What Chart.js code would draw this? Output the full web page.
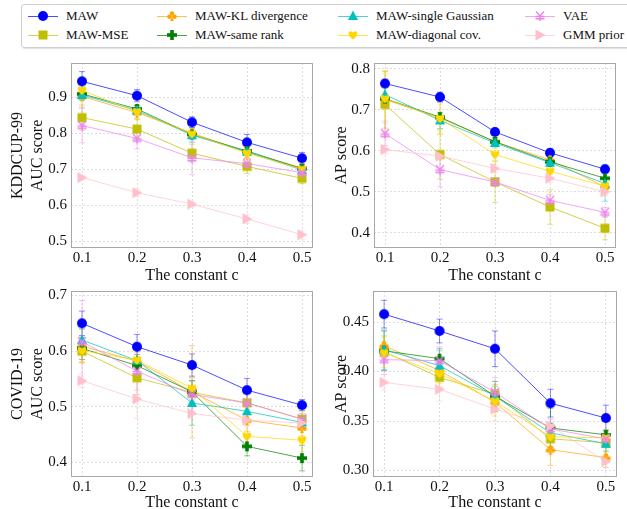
<!DOCTYPE html>
<html lang="en">
<head>
<meta charset="UTF-8">
<title>MAW ablation - constant c</title>
<script src="https://cdn.jsdelivr.net/npm/chart.js@4.4.1/dist/chart.umd.min.js"></script>
<style>
  body { margin: 0; width: 627px; height: 509px; overflow: hidden; position: relative; background: #fff; font-family: 'Liberation Serif', 'Times New Roman', serif; }
  canvas.panel { position: absolute; }
  #legend { position: absolute; left: 21px; top: 4px; width: 640px; height: 42px; border: 1px solid #cfcfcf; border-radius: 3px; box-shadow: 1px 1px 1px rgba(0,0,0,0.12); background: #fff; }
  .item { position: absolute; height: 18px; }
  .item canvas { position: absolute; left: 0; top: 2px; }
  .item span { position: absolute; top: 0; font-size: 13px; line-height: 18px; color: #111; white-space: nowrap; }
</style>
</head>
<body>
  <div id="legend"></div>
  <canvas id="p1" class="panel"></canvas>
  <canvas id="p2" class="panel"></canvas>
  <canvas id="p3" class="panel"></canvas>
  <canvas id="p4" class="panel"></canvas>
  <script>
    // x values and methods
    const cValues = [0.1, 0.2, 0.3, 0.4, 0.5];
    const methods = ['MAW', 'MAW-MSE', 'MAW-KL divergence', 'MAW-same rank',
                     'MAW-single Gaussian', 'MAW-diagonal cov.', 'VAE', 'GMM prior'];
    const methodColors = ['#0000ff', '#bfbf00', '#ffa500', '#008000',
                          '#00bfbf', '#ffd700', '#ee82ee', '#ffc0cb'];
    const methodMarkers = ['circle', 'square', 'club', 'plus', 'triUp', 'heart', 'yen', 'triRight'];

    // KDDCUP-99, AUC (rows follow methods order)
    const kddAuc = [
      [0.945, 0.905, 0.831, 0.775, 0.731],
      [0.844, 0.812, 0.745, 0.708, 0.675],
      [0.903, 0.858, 0.801, 0.747, 0.704],
      [0.910, 0.868, 0.797, 0.751, 0.702],
      [0.907, 0.864, 0.795, 0.749, 0.698],
      [0.920, 0.860, 0.799, 0.745, 0.700],
      [0.822, 0.786, 0.732, 0.716, 0.691],
      [0.677, 0.635, 0.603, 0.562, 0.518]
    ];
    const kddAucErr = [
      [0.027, 0.017, 0.015, 0.022, 0.016],
      [0.035, 0.030, 0.025, 0.020, 0.015],
      [0.030, 0.020, 0.015, 0.015, 0.010],
      [0.015, 0.010, 0.010, 0.010, 0.010],
      [0.015, 0.010, 0.020, 0.010, 0.015],
      [0.020, 0.020, 0.015, 0.015, 0.010],
      [0.048, 0.029, 0.047, 0.015, 0.020],
      [0.005, 0.010, 0.006, 0.012, 0.012]
    ];

    // KDDCUP-99, AP
    const kddAp = [
      [0.764, 0.731, 0.646, 0.595, 0.555],
      [0.713, 0.591, 0.524, 0.463, 0.411],
      [0.725, 0.680, 0.622, 0.578, 0.512],
      [0.727, 0.682, 0.622, 0.573, 0.533],
      [0.737, 0.674, 0.619, 0.571, 0.520],
      [0.727, 0.679, 0.591, 0.550, 0.514],
      [0.642, 0.554, 0.524, 0.479, 0.450],
      [0.603, 0.587, 0.557, 0.533, 0.500]
    ];
    const kddApErr = [
      [0.010, 0.012, 0.008, 0.010, 0.010],
      [0.080, 0.060, 0.050, 0.042, 0.028],
      [0.070, 0.040, 0.010, 0.010, 0.010],
      [0.010, 0.010, 0.010, 0.010, 0.020],
      [0.020, 0.020, 0.010, 0.010, 0.043],
      [0.060, 0.035, 0.015, 0.015, 0.020],
      [0.030, 0.042, 0.010, 0.015, 0.012],
      [0.010, 0.010, 0.010, 0.010, 0.010]
    ];

    // COVID-19, AUC
    const covidAuc = [
      [0.650, 0.608, 0.575, 0.530, 0.503],
      [0.600, 0.552, 0.526, 0.507, 0.478],
      [0.609, 0.582, 0.527, 0.476, 0.462],
      [0.605, 0.574, 0.527, 0.429, 0.408],
      [0.620, 0.583, 0.507, 0.492, 0.472],
      [0.601, 0.584, 0.533, 0.447, 0.440],
      [0.617, 0.564, 0.522, 0.507, 0.478],
      [0.547, 0.514, 0.488, 0.476, 0.471]
    ];
    const covidAucErr = [
      [0.022, 0.022, 0.020, 0.021, 0.010],
      [0.020, 0.030, 0.020, 0.020, 0.015],
      [0.030, 0.030, 0.083, 0.020, 0.015],
      [0.020, 0.020, 0.020, 0.017, 0.023],
      [0.020, 0.020, 0.040, 0.020, 0.010],
      [0.020, 0.030, 0.020, 0.020, 0.020],
      [0.074, 0.034, 0.030, 0.020, 0.010],
      [0.012, 0.035, 0.010, 0.010, 0.010]
    ];

    // COVID-19, AP
    const covidAp = [
      [0.458, 0.441, 0.423, 0.368, 0.353],
      [0.420, 0.394, 0.377, 0.332, 0.328],
      [0.426, 0.401, 0.369, 0.321, 0.313],
      [0.421, 0.413, 0.375, 0.343, 0.336],
      [0.422, 0.406, 0.375, 0.338, 0.327],
      [0.419, 0.398, 0.370, 0.334, 0.333],
      [0.412, 0.411, 0.379, 0.342, 0.332],
      [0.389, 0.382, 0.362, 0.345, 0.309]
    ];
    const covidApErr = [
      [0.014, 0.012, 0.018, 0.014, 0.013],
      [0.010, 0.010, 0.010, 0.008, 0.008],
      [0.010, 0.010, 0.010, 0.016, 0.010],
      [0.020, 0.010, 0.015, 0.020, 0.005],
      [0.020, 0.015, 0.010, 0.010, 0.008],
      [0.015, 0.010, 0.015, 0.010, 0.008],
      [0.015, 0.014, 0.015, 0.010, 0.008],
      [0.008, 0.012, 0.012, 0.008, 0.006]
    ];

    // tick labels
    const kddAucTicks = [0.5, 0.6, 0.7, 0.8, 0.9];
    const kddApTicks = [0.4, 0.5, 0.6, 0.7, 0.8];
    const covidAucTicks = [0.4, 0.5, 0.6, 0.7];
    const covidApTicks = [0.30, 0.35, 0.40, 0.45];

    const FONT = "'Liberation Serif', 'Times New Roman', serif";

    function rgba(hex, a) {
      const n = parseInt(hex.slice(1), 16);
      return 'rgba(' + (n >> 16) + ',' + ((n >> 8) & 255) + ',' + (n & 255) + ',' + a + ')';
    }

    // marker glyphs drawn once, handed to Chart.js as pointStyle
    function makeMarker(kind, color) {
      const size = 14, c = 7;
      const cv = document.createElement('canvas');
      cv.width = size; cv.height = size;
      const g = cv.getContext('2d');
      g.fillStyle = color; g.strokeStyle = color;
      g.beginPath();
      if (kind === 'circle') {
        g.arc(c, c, 5, 0, Math.PI * 2); g.fill();
      } else if (kind === 'square') {
        g.fillRect(c - 4.5, c - 4.5, 9, 9);
      } else if (kind === 'triUp') {
        g.moveTo(c, c - 5.5); g.lineTo(c + 5, c + 4); g.lineTo(c - 5, c + 4); g.closePath(); g.fill();
      } else if (kind === 'triRight') {
        g.moveTo(c + 5.5, c); g.lineTo(c - 4.5, c - 5.5); g.lineTo(c - 4.5, c + 5.5); g.closePath(); g.fill();
      } else if (kind === 'plus') {
        g.fillRect(c - 5, c - 1.8, 10, 3.6); g.fillRect(c - 1.8, c - 5, 3.6, 10);
      } else if (kind === 'heart') {
        g.moveTo(c, c + 4.5);
        g.bezierCurveTo(c - 6.5, c, c - 5, c - 6.5, c, c - 2.5);
        g.bezierCurveTo(c + 5, c - 6.5, c + 6.5, c, c, c + 4.5);
        g.fill();
      } else if (kind === 'club') {
        g.arc(c, c - 2.5, 2.2, 0, Math.PI * 2); g.fill();
        g.beginPath(); g.arc(c - 2.6, c + 0.8, 2.2, 0, Math.PI * 2); g.fill();
        g.beginPath(); g.arc(c + 2.6, c + 0.8, 2.2, 0, Math.PI * 2); g.fill();
        g.beginPath(); g.moveTo(c, c); g.lineTo(c - 1.8, c + 5); g.lineTo(c + 1.8, c + 5); g.closePath(); g.fill();
      } else if (kind === 'yen') {
        g.lineWidth = 1.4;
        g.moveTo(c - 4, c - 4.5); g.lineTo(c, c);
        g.lineTo(c + 4, c - 4.5);
        g.moveTo(c, c); g.lineTo(c, c + 5);
        g.moveTo(c - 4.5, c + 0.5); g.lineTo(c + 4.5, c + 0.5);
        g.moveTo(c - 4.5, c + 2.8); g.lineTo(c + 4.5, c + 2.8);
        g.stroke();
      }
      return cv;
    }
    const markerImgs = methodMarkers.map((m, i) => makeMarker(m, methodColors[i]));

    // legend (html text, small canvas swatches)
    const legendCols = [6, 135, 316, 503];
    const legendRows = [2, 21];
    const legend = document.getElementById('legend');
    methods.forEach((name, i) => {
      const col = Math.floor(i / 2), row = i % 2;
      const item = document.createElement('div');
      item.className = 'item';
      item.style.left = legendCols[col] + 'px';
      item.style.top = legendRows[row] + 'px';
      const sw = document.createElement('canvas');
      sw.width = 30; sw.height = 14;
      const g = sw.getContext('2d');
      g.strokeStyle = rgba(methodColors[i], 0.7);
      g.lineWidth = 1;
      g.beginPath(); g.moveTo(0, 7.5); g.lineTo(30, 7.5); g.stroke();
      g.drawImage(markerImgs[i], 8, 0);
      item.appendChild(sw);
      const label = document.createElement('span');
      label.style.left = '38px';
      label.textContent = name;
      item.appendChild(label);
      legend.appendChild(item);
    });

    const errorBars = {
      id: 'errorBars',
      beforeDatasetsDraw(chart) {
        const ctx = chart.ctx, y = chart.scales.y;
        chart.data.datasets.forEach((ds, di) => {
          const meta = chart.getDatasetMeta(di);
          ctx.save();
          ctx.strokeStyle = ds.errorColor;
          ctx.lineWidth = 1;
          meta.data.forEach((pt, i) => {
            const v = ds.data[i].y, e = ds.errors[i];
            const top = y.getPixelForValue(v + e), bot = y.getPixelForValue(v - e);
            ctx.beginPath();
            ctx.moveTo(pt.x, top); ctx.lineTo(pt.x, bot);
            ctx.moveTo(pt.x - 3, top); ctx.lineTo(pt.x + 3, top);
            ctx.moveTo(pt.x - 3, bot); ctx.lineTo(pt.x + 3, bot);
            ctx.stroke();
          });
          ctx.restore();
        });
      }
    };

    const frame = {
      id: 'frame',
      afterDraw(chart) {
        const a = chart.chartArea, ctx = chart.ctx;
        ctx.save();
        ctx.strokeStyle = '#a8a8a8';
        ctx.lineWidth = 1;
        ctx.strokeRect(Math.round(a.left) + 0.5, Math.round(a.top) + 0.5,
                       Math.round(a.right - a.left) - 1, Math.round(a.bottom - a.top) - 1);
        ctx.restore();
      }
    };

    const panels = [
      { id: 'p1', left: 0, top: 50, w: 320, h: 232, padTop: 7, padRight: 7, yW: 71, xH: 34, xTitlePad: -3,
        yTitle: ['KDDCUP-99', 'AUC score'], yTitlePad: 8, yMin: 0.481, yMax: 0.996, yTicks: kddAucTicks, dec: 1,
        mean: kddAuc, err: kddAucErr },
      { id: 'p2', left: 320, top: 50, w: 307, h: 232, padTop: 7, padRight: 11, yW: 54, xH: 34, xTitlePad: -3,
        yTitle: 'AP score', yTitlePad: 12, yMin: 0.363, yMax: 0.814, yTicks: kddApTicks, dec: 1,
        mean: kddAp, err: kddApErr },
      { id: 'p3', left: 0, top: 278, w: 320, h: 231, padTop: 8, padRight: 7, yW: 71, xH: 32, xTitlePad: -3,
        yTitle: ['COVID-19', 'AUC score'], yTitlePad: 8, yMin: 0.374, yMax: 0.708, yTicks: covidAucTicks, dec: 1,
        mean: covidAuc, err: covidAucErr },
      { id: 'p4', left: 320, top: 278, w: 307, h: 231, padTop: 8, padRight: 10, yW: 53, xH: 32, xTitlePad: -3,
        yTitle: 'AP score', yTitlePad: 12, yMin: 0.2934, yMax: 0.4814, yTicks: covidApTicks, dec: 2,
        mean: covidAp, err: covidApErr }
    ];

    panels.forEach(p => {
      const cv = document.getElementById(p.id);
      cv.width = p.w; cv.height = p.h;
      cv.style.left = p.left + 'px'; cv.style.top = p.top + 'px';

      const datasets = methods.map((name, i) => ({
        label: name,
        data: cValues.map((c, k) => ({ x: c, y: p.mean[i][k] })),
        errors: p.err[i],
        errorColor: rgba(methodColors[i], 0.45),
        borderColor: rgba(methodColors[i], 0.7),
        borderWidth: 1,
        pointStyle: markerImgs[i],
        pointRadius: 5,
        pointHoverRadius: 5,
        fill: false,
        tension: 0,
        order: methods.length - i
      }));

      new Chart(cv.getContext('2d'), {
        type: 'line',
        data: { datasets },
        plugins: [errorBars, frame],
        options: {
          responsive: false,
          animation: false,
          devicePixelRatio: 1,
          layout: { padding: { top: p.padTop, right: p.padRight, bottom: 0, left: 0 } },
          plugins: { legend: { display: false }, tooltip: { enabled: false } },
          scales: {
            x: {
              type: 'linear', min: 0.08, max: 0.52,
              afterFit: s => { s.height = p.xH; },
              afterBuildTicks: s => { s.ticks = cValues.map(v => ({ value: v })); },
              grid: { color: '#dcdcdc', drawTicks: false },
              border: { display: false, dash: [2, 2] },
              ticks: { padding: 1, color: '#111', font: { family: FONT, size: 15 },
                       callback: v => v.toFixed(1) },
              title: { display: true, text: 'The constant c', color: '#111',
                       font: { family: FONT, size: 16 }, padding: { top: 0, bottom: p.xTitlePad } }
            },
            y: {
              type: 'linear', min: p.yMin, max: p.yMax,
              afterFit: s => { s.width = p.yW; },
              afterBuildTicks: s => { s.ticks = p.yTicks.map(v => ({ value: v })); },
              grid: { color: '#dcdcdc', drawTicks: false },
              border: { display: false, dash: [2, 2] },
              ticks: { padding: 4, color: '#111', font: { family: FONT, size: 15 },
                       callback: v => v.toFixed(p.dec) },
              title: { display: true, text: p.yTitle, color: '#111',
                       font: { family: FONT, size: 16, lineHeight: 1.25 }, padding: { top: p.yTitlePad, bottom: 0 } }
            }
          }
        }
      });
    });
  </script>
</body>
</html>
